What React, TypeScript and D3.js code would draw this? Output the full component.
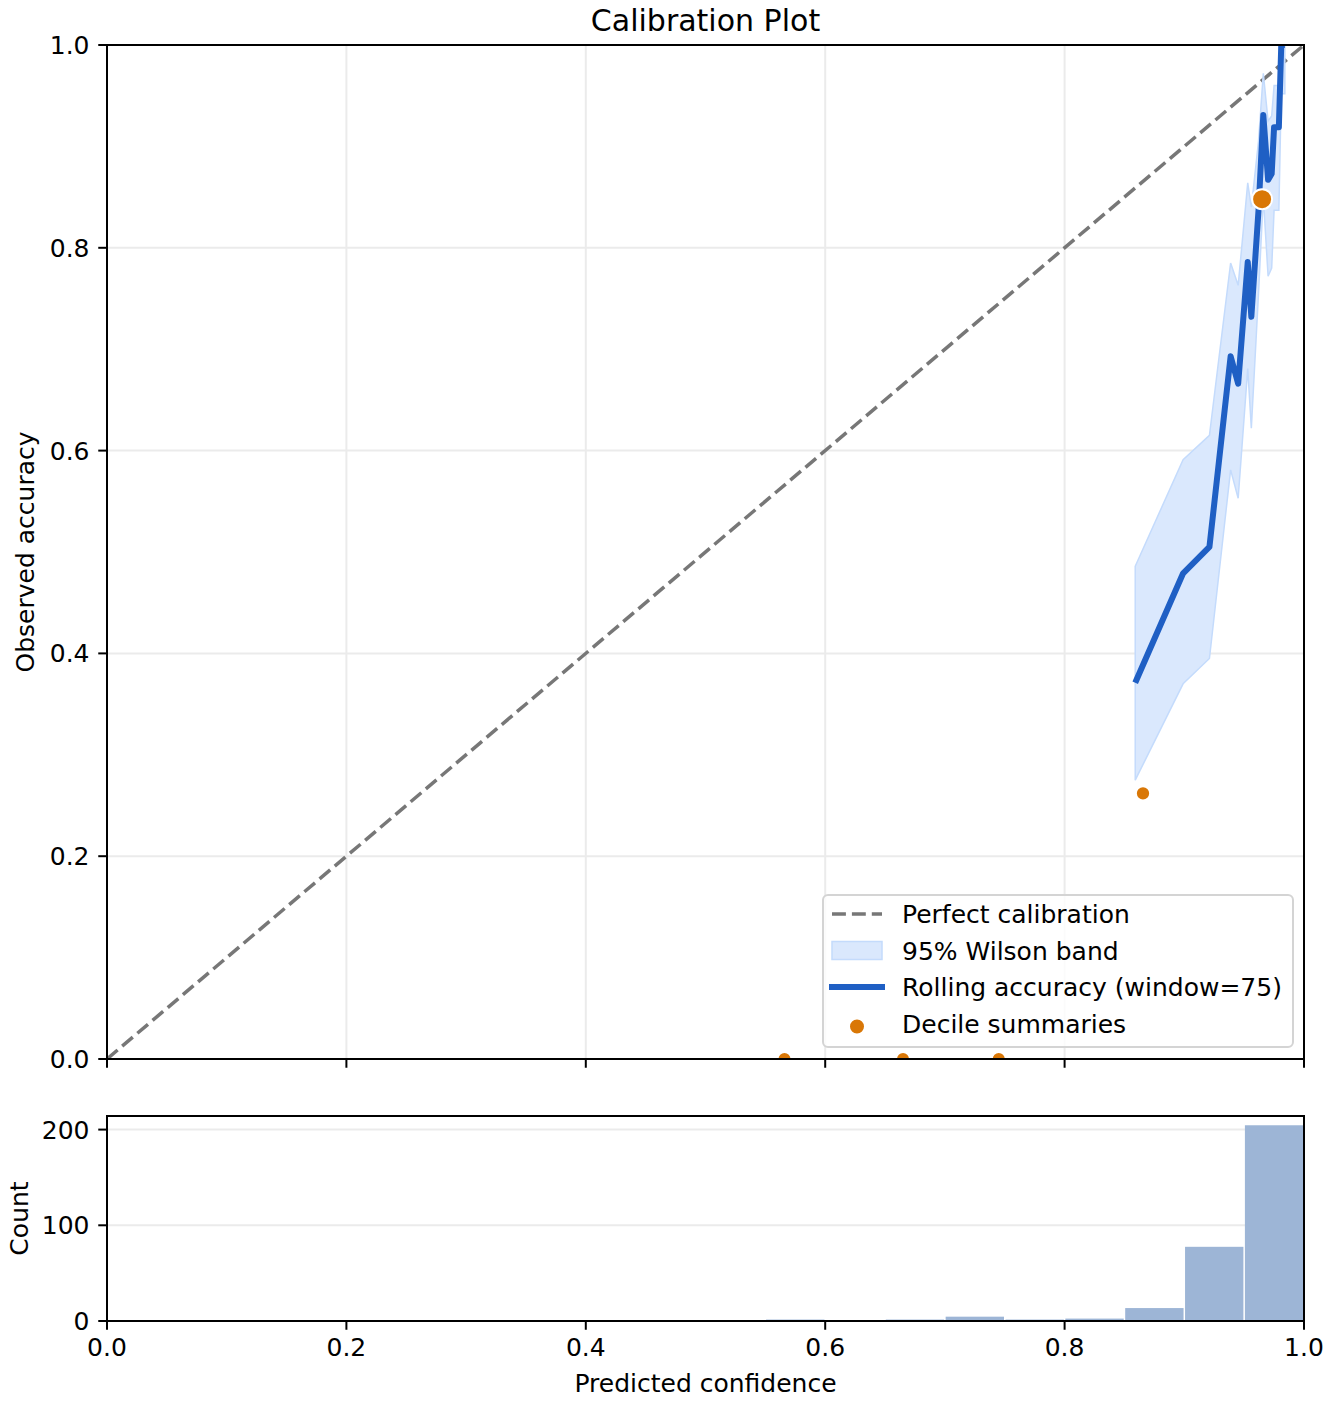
import React, { useEffect, useRef } from "react";
import * as d3 from "d3";

// rolling accuracy curve (window=75) with its Wilson band
const rollConf = [0.859, 0.899, 0.921, 0.9387, 0.945, 0.953, 0.956, 0.962, 0.966, 0.970, 0.973, 0.975, 0.979, 0.981, 0.984];
const rollAcc = [0.371, 0.479, 0.505, 0.693, 0.666, 0.786, 0.732, 0.837, 0.931, 0.867, 0.873, 0.919, 0.919, 1.0, 1.0];
const wilsonLo = [0.275, 0.370, 0.395, 0.581, 0.553, 0.681, 0.622, 0.755, 0.850, 0.772, 0.780, 0.837, 0.837, 0.952, 0.952];
const wilsonHi = [0.486, 0.591, 0.615, 0.785, 0.763, 0.864, 0.840, 0.905, 0.972, 0.925, 0.930, 0.960, 0.960, 1.0, 1.0];

// decile summaries
const decileConf = [0.566, 0.665, 0.745, 0.8655, 0.965];
const decileAcc = [0.0, 0.0, 0.0, 0.262, 0.848];
const decileCount = [1, 1, 5, 15, 280];

// histogram of predicted confidence (bins of 0.05)
const binEdges = [0, 0.05, 0.1, 0.15, 0.2, 0.25, 0.3, 0.35, 0.4, 0.45, 0.5, 0.55, 0.6, 0.65, 0.7, 0.75, 0.8, 0.85, 0.9, 0.95, 1.0];
const binCounts = [0, 0, 0, 0, 0, 0, 0, 0, 0, 0, 0, 1, 0, 1, 4, 1, 2, 13, 77, 204];

const axisTicks = [0, 0.2, 0.4, 0.6, 0.8, 1.0];
const countTicks = [0, 100, 200];

const legendLabels = ["Perfect calibration", "95% Wilson band", "Rolling accuracy (window=75)", "Decile summaries"];

const W = 1332;
const H = 1404;
const FONT = "DejaVu Sans, sans-serif";

const CalibrationPlot: React.FC = () => {
  const svgRef = useRef<SVGSVGElement>(null);

  const main = { left: 107, right: 1304, top: 45, bottom: 1059 };
  const hist = { left: 107, right: 1304, top: 1116, bottom: 1321 };

  useEffect(() => {
    const svg = d3.select(svgRef.current);
    svg.selectAll("*").remove();

    const x = d3.scaleLinear().domain([0, 1]).range([main.left, main.right]);
    const y = d3.scaleLinear().domain([0, 1]).range([main.bottom, main.top]);
    const yCount = d3.scaleLinear()
      .domain([0, d3.max(binCounts)! * 1.05])
      .range([hist.bottom, hist.top]);
    const radius = d3.scaleLinear().domain([1, 280]).range([7, 10]);
    const fmt = d3.format(".1f");

    svg.append("rect").attr("width", W).attr("height", H).attr("fill", "#fff");

    svg.append("defs").append("clipPath").attr("id", "mainClip")
      .append("rect")
      .attr("x", main.left).attr("y", main.top)
      .attr("width", main.right - main.left)
      .attr("height", main.bottom - main.top);

    // grid
    const grid = svg.append("g").attr("stroke", "#ebebeb").attr("stroke-width", 2);
    axisTicks.slice(1, -1).forEach((t) => {
      grid.append("line").attr("x1", x(t)).attr("x2", x(t))
        .attr("y1", main.top).attr("y2", main.bottom);
      grid.append("line").attr("y1", y(t)).attr("y2", y(t))
        .attr("x1", main.left).attr("x2", main.right);
    });
    countTicks.slice(1).forEach((t) => {
      grid.append("line").attr("y1", yCount(t)).attr("y2", yCount(t))
        .attr("x1", hist.left).attr("x2", hist.right);
    });

    const plot = svg.append("g").attr("clip-path", "url(#mainClip)");

    // perfect calibration
    plot.append("line")
      .attr("x1", x(0)).attr("y1", y(0)).attr("x2", x(1)).attr("y2", y(1))
      .attr("stroke", "#777").attr("stroke-width", 3.5)
      .attr("stroke-dasharray", "13.9,6");

    // wilson band
    const idx = d3.range(rollConf.length);
    const band = d3.area<number>()
      .x((i) => x(rollConf[i]))
      .y0((i) => y(wilsonLo[i]))
      .y1((i) => y(wilsonHi[i]));
    plot.append("path").attr("d", band(idx))
      .attr("fill", "#dae8fd").attr("stroke", "#c4dbfc").attr("stroke-width", 1.5);

    // rolling accuracy
    const line = d3.line<number>()
      .x((i) => x(rollConf[i]))
      .y((i) => y(rollAcc[i]));
    plot.append("path").attr("d", line(idx))
      .attr("fill", "none").attr("stroke", "#1f5fc4").attr("stroke-width", 6)
      .attr("stroke-linejoin", "round");

    // decile summaries
    plot.append("g").selectAll("circle")
      .data(d3.range(decileConf.length))
      .enter()
      .append("circle")
      .attr("cx", (i) => x(decileConf[i]))
      .attr("cy", (i) => y(decileAcc[i]))
      .attr("r", (i) => radius(decileCount[i]))
      .attr("fill", "#d97706")
      .attr("stroke", "#fff").attr("stroke-width", 2);

    // histogram (white gap between bars instead of a stroke so tiny bars stay visible)
    svg.append("g").selectAll("rect")
      .data(d3.range(binCounts.length).filter((i) => binCounts[i] > 0))
      .enter()
      .append("rect")
      .attr("x", (i) => x(binEdges[i]) + 0.75)
      .attr("width", (i) => x(binEdges[i + 1]) - x(binEdges[i]) - 1.5)
      .attr("y", (i) => yCount(binCounts[i]) - 0.5)
      .attr("height", (i) => hist.bottom - yCount(binCounts[i]) + 0.5)
      .attr("fill", "#9db5d6");

    // frames
    [main, hist].forEach((b) => {
      svg.append("rect")
        .attr("x", b.left).attr("y", b.top)
        .attr("width", b.right - b.left).attr("height", b.bottom - b.top)
        .attr("fill", "none").attr("stroke", "#000").attr("stroke-width", 2);
    });

    const ticks = svg.append("g").attr("stroke", "#000").attr("stroke-width", 2);
    const labels = svg.append("g").attr("font-family", FONT).attr("font-size", 25).attr("fill", "#000");

    axisTicks.forEach((t) => {
      ticks.append("line").attr("x1", x(t)).attr("x2", x(t))
        .attr("y1", main.bottom).attr("y2", main.bottom + 8.75);
      ticks.append("line").attr("x1", x(t)).attr("x2", x(t))
        .attr("y1", hist.bottom).attr("y2", hist.bottom + 8.75);
      ticks.append("line").attr("x1", main.left - 8.75).attr("x2", main.left)
        .attr("y1", y(t)).attr("y2", y(t));
      labels.append("text").attr("x", x(t)).attr("y", hist.bottom + 35)
        .attr("text-anchor", "middle").text(fmt(t));
      labels.append("text").attr("x", main.left - 17.5).attr("y", y(t) + 9)
        .attr("text-anchor", "end").text(fmt(t));
    });
    countTicks.forEach((t) => {
      ticks.append("line").attr("x1", hist.left - 8.75).attr("x2", hist.left)
        .attr("y1", yCount(t)).attr("y2", yCount(t));
      labels.append("text").attr("x", hist.left - 17.5).attr("y", yCount(t) + 9)
        .attr("text-anchor", "end").text(String(t));
    });

    // axis labels and title
    labels.append("text").attr("x", (main.left + main.right) / 2).attr("y", 1392)
      .attr("text-anchor", "middle").text("Predicted confidence");
    labels.append("text")
      .attr("transform", `translate(34,${(main.top + main.bottom) / 2}) rotate(-90)`)
      .attr("text-anchor", "middle").text("Observed accuracy");
    labels.append("text")
      .attr("transform", `translate(28,${(hist.top + hist.bottom) / 2}) rotate(-90)`)
      .attr("text-anchor", "middle").text("Count");
    labels.append("text").attr("x", (main.left + main.right) / 2).attr("y", 31)
      .attr("text-anchor", "middle").attr("font-size", 30).text("Calibration Plot");

    // legend
    const lg = svg.append("g");
    lg.append("rect")
      .attr("x", 823).attr("y", 895).attr("width", 470).attr("height", 152).attr("rx", 5)
      .attr("fill", "#fff").attr("fill-opacity", 0.8)
      .attr("stroke", "#d4d4d4").attr("stroke-width", 2);
    const rowY = (k: number) => 914 + k * 36.5;
    lg.append("line").attr("x1", 832).attr("x2", 882).attr("y1", rowY(0)).attr("y2", rowY(0))
      .attr("stroke", "#777").attr("stroke-width", 3.5).attr("stroke-dasharray", "13.9,6");
    lg.append("rect").attr("x", 832).attr("y", rowY(1) - 9).attr("width", 50).attr("height", 18)
      .attr("fill", "#dae8fd").attr("stroke", "#c4dbfc").attr("stroke-width", 1.5);
    lg.append("line").attr("x1", 832).attr("x2", 882).attr("y1", rowY(2)).attr("y2", rowY(2))
      .attr("stroke", "#1f5fc4").attr("stroke-width", 6).attr("stroke-linecap", "square");
    lg.append("circle").attr("cx", 857).attr("cy", rowY(3) + 3).attr("r", 8)
      .attr("fill", "#d97706").attr("stroke", "#fff").attr("stroke-width", 2);
    legendLabels.forEach((l, k) => {
      lg.append("text").attr("x", 902).attr("y", rowY(k) + 9)
        .attr("font-family", FONT).attr("font-size", 25).attr("fill", "#000").text(l);
    });
  }, []);

  return (
    <svg
      ref={svgRef}
      width={W}
      height={H}
      viewBox={`0 0 ${W} ${H}`}
      style={{ position: "absolute", left: 0, top: 0, display: "block" }}
    ></svg>
  );
};

export default function App() {
  return <CalibrationPlot />;
}
